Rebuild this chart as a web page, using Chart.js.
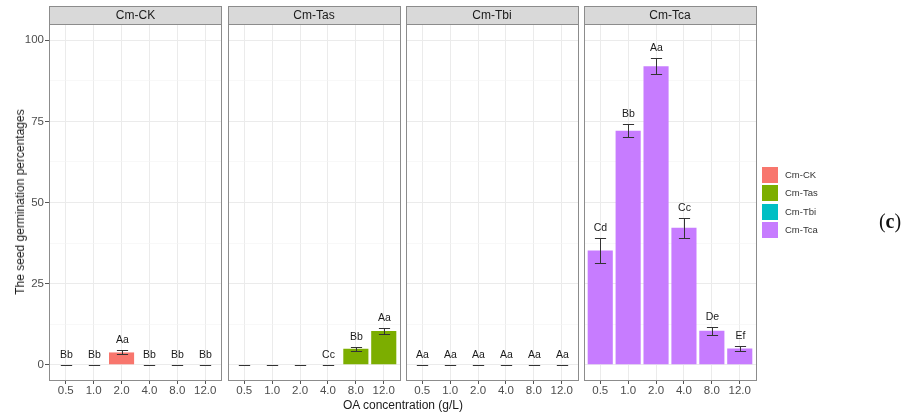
<!DOCTYPE html>
<html>
<head>
<meta charset="utf-8">
<script src="https://cdn.jsdelivr.net/npm/chart.js@4"></script>
<style>
  body { margin: 0; background: #fff; font-family: "Liberation Sans", Arial, sans-serif; }
  #wrap { position: relative; width: 912px; height: 415px; overflow: hidden; }
  #wrap canvas { position: absolute; left: 0; top: 0; }
  .ytitle { position: absolute; left: 20px; top: 202px; transform: translate(-50%, -50%) rotate(-90deg); white-space: nowrap; font-size: 12px; color: #1a1a1a; }
  .xtitle { position: absolute; left: 403px; top: 405px; transform: translate(-50%, -50%); white-space: nowrap; font-size: 12px; color: #1a1a1a; }
  .key { position: absolute; left: 762px; width: 16px; height: 16px; }
  .keylab { position: absolute; left: 785px; font-size: 9.5px; color: #333; line-height: 16px; }
  .tag { position: absolute; left: 890px; top: 221px; transform: translate(-50%, -50%); font-family: "Liberation Serif", "DejaVu Serif", serif; font-size: 20px; color: #111; }
  .tag b { font-weight: bold; }
</style>
</head>
<body>
<div id="wrap">
  <canvas id="p0" width="912" height="415"></canvas>
  <canvas id="p1" width="912" height="415"></canvas>
  <canvas id="p2" width="912" height="415"></canvas>
  <canvas id="p3" width="912" height="415"></canvas>
  <div class="ytitle">The seed germination percentages</div>
  <div class="xtitle">OA concentration (g/L)</div>
  <div id="legend"></div>
  <div class="tag">(<b>c</b>)</div>
</div>
<script>
// data
const concentrations = ['0.5', '1.0', '2.0', '4.0', '8.0', '12.0'];
const groups = ['Cm-CK', 'Cm-Tas', 'Cm-Tbi', 'Cm-Tca'];

const ckMeans = [0, 0, 3.8, 0, 0, 0];
const ckErr = [0, 0, 0.6, 0, 0, 0];
const ckLetters = ['Bb', 'Bb', 'Aa', 'Bb', 'Bb', 'Bb'];

const tasMeans = [0, 0, 0, 0, 4.9, 10.4];
const tasErr = [0, 0, 0, 0, 0.6, 1.0];
const tasLetters = ['', '', '', 'Cc', 'Bb', 'Aa'];

const tbiMeans = [0, 0, 0, 0, 0, 0];
const tbiErr = [0, 0, 0, 0, 0, 0];
const tbiLetters = ['Aa', 'Aa', 'Aa', 'Aa', 'Aa', 'Aa'];

const tcaMeans = [35.2, 72.1, 92.0, 42.2, 10.5, 5.0];
const tcaErr = [3.8, 2.0, 2.5, 3.1, 1.2, 0.9];
const tcaLetters = ['Cd', 'Bb', 'Aa', 'Cc', 'De', 'Ef'];

const yTicks = [0, 12.5, 25, 37.5, 50, 62.5, 75, 87.5, 100];

const groupColors = ['#F8766D', '#7CAE00', '#00BFC4', '#C77CFF'];
const FONT = '"Liberation Sans", Arial, sans-serif';

const panels = [
  { means: ckMeans, err: ckErr, letters: ckLetters },
  { means: tasMeans, err: tasErr, letters: tasLetters },
  { means: tbiMeans, err: tbiErr, letters: tbiLetters },
  { means: tcaMeans, err: tcaErr, letters: tcaLetters },
];

// layout of facets (pixels)
const panelLeft = [49, 227.5, 405.5, 583.5];
const panelW = 173;
const stripTop = 6;

const isMajor = v => v % 25 === 0;

// error bars, letters, panel border and strip
const facetPlugin = {
  id: 'facet',
  afterDatasetsDraw(chart) {
    const { ctx, scales: { x, y } } = chart;
    const ds = chart.data.datasets[0];
    const half = (x.getPixelForValue(1) - x.getPixelForValue(0)) * 0.2;
    ctx.save();
    ctx.strokeStyle = '#333';
    ctx.lineWidth = 1;
    ctx.fillStyle = '#1a1a1a';
    ctx.font = '10.5px ' + FONT;
    ctx.textAlign = 'center';
    ctx.textBaseline = 'middle';
    ds.data.forEach((pt, k) => {
      const v = pt.y;
      const cx = Math.round(x.getPixelForValue(pt.x)) + 0.5;
      const top = Math.round(y.getPixelForValue(v + ds.errors[k])) + 0.5;
      const bot = Math.round(y.getPixelForValue(v - ds.errors[k])) + 0.5;
      ctx.beginPath();
      ctx.moveTo(cx - half, top); ctx.lineTo(cx + half, top);
      ctx.moveTo(cx, top); ctx.lineTo(cx, bot);
      ctx.moveTo(cx - half, bot); ctx.lineTo(cx + half, bot);
      ctx.stroke();
      if (ds.letters[k]) ctx.fillText(ds.letters[k], cx, top - 10);
    });
    ctx.restore();
  },
  afterDraw(chart) {
    const { ctx, chartArea: a } = chart;
    const l = Math.round(a.left) + 0.5, r = Math.round(a.right) - 0.5;
    ctx.save();
    ctx.strokeStyle = '#8c8c8c';
    ctx.lineWidth = 1;
    ctx.strokeRect(l, Math.round(a.top) + 0.5, r - l, Math.round(a.bottom) - Math.round(a.top) - 1);
    // strip
    ctx.fillStyle = '#d9d9d9';
    ctx.fillRect(l, stripTop + 0.5, r - l, a.top - stripTop);
    ctx.strokeRect(l, stripTop + 0.5, r - l, Math.round(a.top) - stripTop);
    ctx.fillStyle = '#1a1a1a';
    ctx.font = '12px ' + FONT;
    ctx.textAlign = 'center';
    ctx.textBaseline = 'middle';
    ctx.fillText(chart.options.stripLabel, (a.left + a.right) / 2, (stripTop + a.top) / 2 + 1);
    ctx.restore();
  }
};

panels.forEach((p, i) => {
  new Chart(document.getElementById('p' + i), {
    type: 'bar',
    data: {
      datasets: [{
        data: p.means.map((v, k) => ({ x: k, y: v })),
        errors: p.err,
        letters: p.letters,
        backgroundColor: groupColors[i],
        barPercentage: 0.9,
        categoryPercentage: 1
      }]
    },
    options: {
      responsive: false,
      animation: false,
      stripLabel: groups[i],
      layout: { padding: { left: i === 0 ? 0 : panelLeft[i], right: 912 - panelLeft[i] - panelW, top: 24, bottom: 0 } },
      plugins: { legend: { display: false }, tooltip: { enabled: false } },
      scales: {
        x: {
          type: 'linear',
          min: -0.6,
          max: concentrations.length - 0.4,
          offset: false,
          afterBuildTicks: s => { s.ticks = concentrations.map((c, k) => ({ value: k })); },
          grid: { offset: false, color: '#ebebeb', lineWidth: 1, tickColor: '#555', tickLength: 3 },
          border: { display: false },
          ticks: {
            color: '#4d4d4d', font: { size: 11.5, family: FONT }, padding: 0, maxRotation: 0, autoSkip: false,
            callback: v => concentrations[v]
          },
          afterFit: s => { s.height = 34; }
        },
        y: {
          min: -5,
          max: 105,
          afterBuildTicks: s => { s.ticks = yTicks.map(v => ({ value: v })); },
          grid: {
            color: c => isMajor(c.tick.value) ? '#ebebeb' : '#f3f3f3',
            lineWidth: c => isMajor(c.tick.value) ? 1 : 0.6,
            tickColor: c => isMajor(c.tick.value) ? '#555' : 'rgba(0,0,0,0)',
            tickLength: 4,
            drawTicks: i === 0
          },
          border: { display: false },
          ticks: {
            display: i === 0,
            color: '#4d4d4d',
            font: { size: 11.5, family: FONT },
            padding: 1,
            callback: v => isMajor(v) ? String(v) : ''
          },
          afterFit: s => { s.width = i === 0 ? 49 : 0; }
        }
      }
    },
    plugins: [facetPlugin]
  });
});

// legend
const legend = document.getElementById('legend');
groups.forEach((g, k) => {
  const top = 167 + k * 18.3;
  const key = document.createElement('div');
  key.className = 'key';
  key.style.top = top + 'px';
  key.style.background = groupColors[k];
  legend.appendChild(key);
  const lab = document.createElement('div');
  lab.className = 'keylab';
  lab.style.top = top + 'px';
  lab.textContent = g;
  legend.appendChild(lab);
});
</script>
</body>
</html>
